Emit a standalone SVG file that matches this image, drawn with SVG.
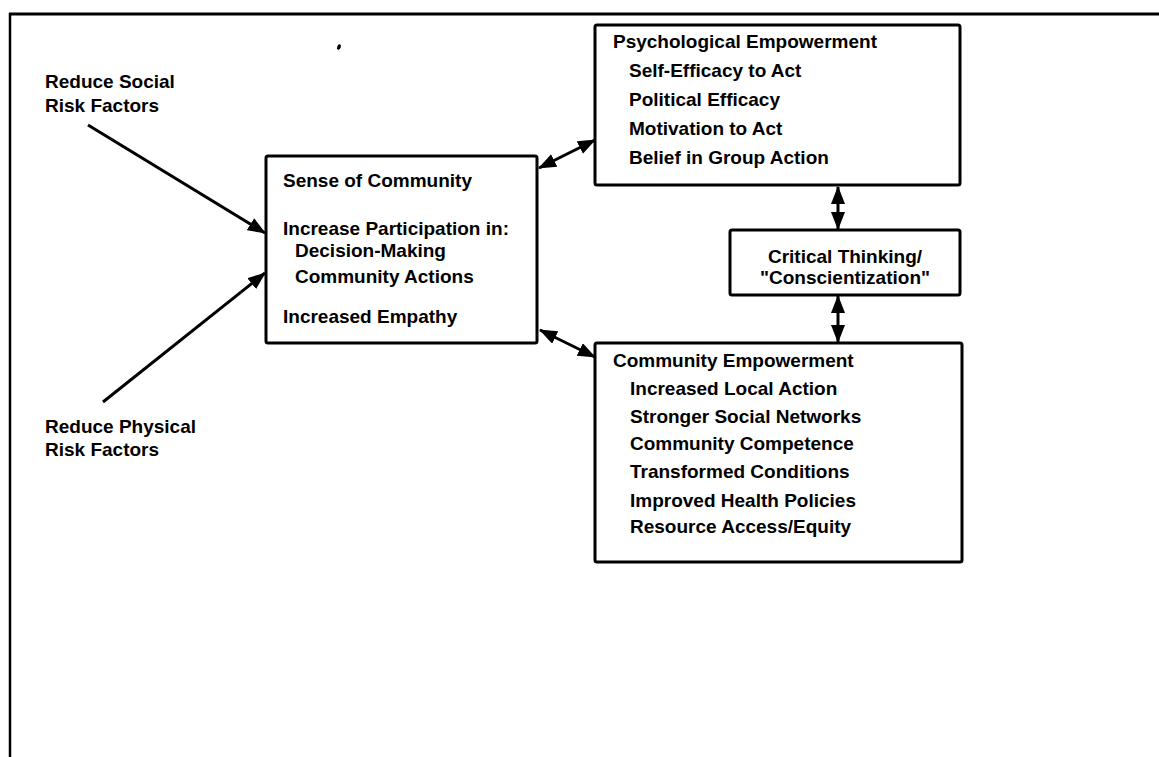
<svg xmlns="http://www.w3.org/2000/svg" width="1159" height="757" viewBox="0 0 1159 757">
  <style>
    .frame { fill: none; stroke: #000; }
    .box { fill: #fff; stroke: #000; stroke-width: 3; }
    .lbl { font-family: "Liberation Sans", Arial, sans-serif; font-size: 19px; font-weight: bold; fill: #000; }
    .mid { text-anchor: middle; }
    .link { stroke: #000; stroke-width: 3; fill: none; }
  </style>
  <defs>
    <marker id="head" viewBox="0 0 18 14" refX="17" refY="7" markerWidth="18" markerHeight="14" markerUnits="userSpaceOnUse" orient="auto-start-reverse">
      <path d="M0,0 L18,7 L0,14 z" fill="#000"/>
    </marker>
  </defs>

  <rect width="1159" height="757" fill="#fff"/>

  <!-- page frame: top rule and left rule -->
  <line class="frame" x1="9" y1="14" x2="1159" y2="14" stroke-width="3"/>
  <line class="frame" x1="10" y1="13" x2="10" y2="757" stroke-width="2.5"/>
  <ellipse cx="339" cy="47" rx="1.8" ry="2.8" transform="rotate(20 339 47)" fill="#000"/>

  <!-- connectors -->
  <g id="connectors">
    <line class="link" x1="88" y1="125" x2="265" y2="233" marker-end="url(#head)"/>
    <line class="link" x1="103" y1="402" x2="265" y2="273" marker-end="url(#head)"/>
    <line class="link" x1="539" y1="168" x2="595" y2="140" marker-start="url(#head)" marker-end="url(#head)"/>
    <line class="link" x1="540" y1="330" x2="595" y2="357" marker-start="url(#head)" marker-end="url(#head)"/>
    <line class="link" x1="838" y1="187" x2="838" y2="229" marker-start="url(#head)" marker-end="url(#head)"/>
    <line class="link" x1="838" y1="296" x2="838" y2="342" marker-start="url(#head)" marker-end="url(#head)"/>
  </g>

  <g id="social-risk">
    <text class="lbl" x="45" y="88">Reduce Social</text>
    <text class="lbl" x="45" y="112">Risk Factors</text>
  </g>

  <g id="physical-risk">
    <text class="lbl" x="45" y="433">Reduce Physical</text>
    <text class="lbl" x="45" y="456">Risk Factors</text>
  </g>

  <g id="sense-of-community">
    <rect class="box" x="266" y="156" width="271" height="187" rx="2"/>
    <text class="lbl" x="283" y="187">Sense of Community</text>
    <text class="lbl" x="283" y="235">Increase Participation in:</text>
    <text class="lbl" x="295" y="257">Decision-Making</text>
    <text class="lbl" x="295" y="283">Community Actions</text>
    <text class="lbl" x="283" y="323">Increased Empathy</text>
  </g>

  <g id="psychological-empowerment">
    <rect class="box" x="595" y="25" width="365" height="160" rx="2"/>
    <text class="lbl" x="613" y="48">Psychological Empowerment</text>
    <text class="lbl" x="629" y="77">Self-Efficacy to Act</text>
    <text class="lbl" x="629" y="106">Political Efficacy</text>
    <text class="lbl" x="629" y="135">Motivation to Act</text>
    <text class="lbl" x="629" y="164">Belief in Group Action</text>
  </g>

  <g id="critical-thinking">
    <rect class="box" x="730" y="230" width="230" height="65" rx="2"/>
    <text class="lbl mid" x="845" y="263">Critical Thinking/</text>
    <text class="lbl mid" x="845" y="284">"Conscientization"</text>
  </g>

  <g id="community-empowerment">
    <rect class="box" x="595" y="343" width="367" height="219" rx="2"/>
    <text class="lbl" x="613" y="367">Community Empowerment</text>
    <text class="lbl" x="630" y="395">Increased Local Action</text>
    <text class="lbl" x="630" y="423">Stronger Social Networks</text>
    <text class="lbl" x="630" y="450">Community Competence</text>
    <text class="lbl" x="630" y="478">Transformed Conditions</text>
    <text class="lbl" x="630" y="507">Improved Health Policies</text>
    <text class="lbl" x="630" y="533">Resource Access/Equity</text>
  </g>
</svg>
